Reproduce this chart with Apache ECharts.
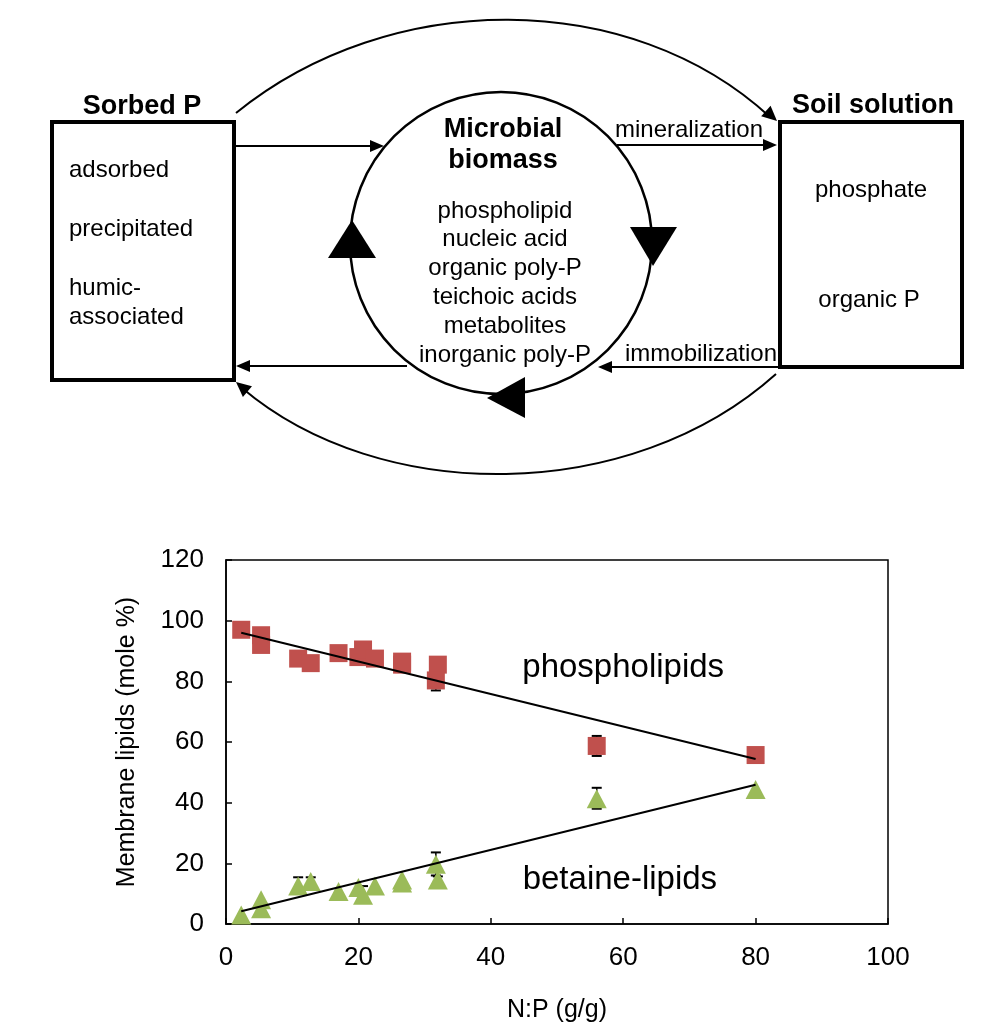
<!DOCTYPE html>
<html>
<head>
<meta charset="utf-8">
<script src="https://cdn.jsdelivr.net/npm/echarts@6/dist/echarts.min.js"></script>
<style>
html,body{margin:0;padding:0;background:#fff;}
#main{width:994px;height:1024px;}
</style>
</head>
<body>
<div id="main"></div>
<script>
// ---- Data ----
const xTicks = [0, 20, 40, 60, 80, 100];
const yTicks = [0, 20, 40, 60, 80, 100, 120];
const phospholipids = [
  [2.3, 97], [5.3, 95.2], [5.3, 92], [10.9, 87.5], [12.8, 86], [17, 89.3],
  [20, 88], [20.7, 90.5], [22.5, 87.5], [26.6, 86.5], [26.6, 85.5],
  [32, 85.5], [31.7, 80.3], [56, 58.7], [80, 55.7]
];
const betaineLipids = [
  [2.3, 3], [5.3, 8], [5.3, 5], [10.9, 12.5], [12.8, 14], [17, 10.7],
  [20, 12], [20.7, 9.5], [22.5, 12.5], [26.6, 13.5], [26.6, 14.5],
  [32, 14.5], [31.7, 19.7], [56, 41.3], [80, 44.3]
];
const phosTrend = [[2.3, 96], [80, 54.4]];
const betaineTrend = [[2.3, 4.2], [80, 45.9]];
const phosErr = [[31.7, 77, 83.5], [56, 55.4, 62]];
const betaineErr = [[10.9, 11, 15.4], [12.8, 12.6, 15.4], [20.7, 8, 12.5], [32, 13, 15.7], [31.7, 16, 23.6], [56, 38, 44.9]];
const seriesLabels = [[60, 84.5, 'phospholipids'], [59.5, 14.5, 'betaine-lipids']];

const FONT = '"Liberation Sans", Arial, Helvetica, sans-serif';

// ---- Diagram helpers ----
function txt(x, y, text, size, bold, align) {
  const f = (bold ? 'bold ' : '') + size + 'px ' + FONT;
  return {type: 'text', x: x, y: y, z: 10, style: {
    text: text, fill: '#000', font: f,
    align: align || 'left', verticalAlign: 'middle',
    textAlign: align || 'left', textVerticalAlign: 'middle'
  }};
}
function seg(x1, y1, x2, y2, w) {
  return {type: 'line', z: 10, shape: {x1, y1, x2, y2}, style: {stroke: '#000', lineWidth: w || 2}};
}
function head(tx, ty, dx, dy, len, half) {
  const L = Math.hypot(dx, dy); const ux = dx / L, uy = dy / L;
  const bx = tx - ux * len, by = ty - uy * len;
  return {type: 'polygon', z: 11, shape: {points: [[tx, ty], [bx - uy * half, by + ux * half], [bx + uy * half, by - ux * half]]}, style: {fill: '#000'}};
}
function poly(pts) {
  return {type: 'polygon', z: 11, shape: {points: pts}, style: {fill: '#000'}};
}

const diagram = [
  // boxes
  {type: 'rect', z: 10, shape: {x: 52, y: 122, width: 182, height: 258}, style: {fill: 'none', stroke: '#000', lineWidth: 4}},
  {type: 'rect', z: 10, shape: {x: 780, y: 122, width: 182, height: 245}, style: {fill: 'none', stroke: '#000', lineWidth: 4}},
  // circle
  {type: 'circle', z: 10, shape: {cx: 501, cy: 243, r: 151}, style: {fill: 'none', stroke: '#000', lineWidth: 2.5}},
  // big arrowheads on circle
  poly([[352, 220], [328, 258], [376, 258]]),
  poly([[653, 266], [630, 227], [677, 227]]),
  poly([[487, 398], [525, 377], [525, 418]]),
  // big curves
  {type: 'bezierCurve', z: 10, shape: {x1: 236, y1: 113, cpx1: 390, cpy1: -12, cpx2: 630, cpy2: -12, x2: 770, y2: 117}, style: {stroke: '#000', lineWidth: 2, fill: 'none'}},
  head(777, 121, 146, 132, 15, 7),
  {type: 'bezierCurve', z: 10, shape: {x1: 776, y1: 374, cpx1: 630, cpy1: 505, cpx2: 380, cpy2: 505, x2: 242, y2: 388}, style: {stroke: '#000', lineWidth: 2, fill: 'none'}},
  head(236, 382, -144, -122, 15, 7),
  // straight arrows
  seg(234, 146, 372, 146), head(384, 146, 1, 0, 14, 6),
  seg(407, 366, 248, 366), head(236, 366, -1, 0, 14, 6),
  seg(617, 145, 764, 145), head(777, 145, 1, 0, 14, 6),
  seg(778, 367, 610, 367), head(598, 367, -1, 0, 14, 6),
  // texts
  txt(142, 107, 'Sorbed P', 27, true, 'center'),
  txt(69, 170, 'adsorbed', 24),
  txt(69, 229, 'precipitated', 24),
  txt(69, 288, 'humic-', 24),
  txt(69, 317, 'associated', 24),
  txt(873, 106, 'Soil solution', 27, true, 'center'),
  txt(871, 190, 'phosphate', 24, false, 'center'),
  txt(869, 300, 'organic P', 24, false, 'center'),
  txt(503, 130, 'Microbial', 27, true, 'center'),
  txt(503, 161, 'biomass', 27, true, 'center'),
  txt(505, 211, 'phospholipid', 24, false, 'center'),
  txt(505, 239, 'nucleic acid', 24, false, 'center'),
  txt(505, 268, 'organic poly-P', 24, false, 'center'),
  txt(505, 297, 'teichoic acids', 24, false, 'center'),
  txt(505, 326, 'metabolites', 24, false, 'center'),
  txt(505, 355, 'inorganic poly-P', 24, false, 'center'),
  txt(689, 130, 'mineralization', 24, false, 'center'),
  txt(701, 354, 'immobilization', 24, false, 'center')
];

function errRender(params, api) {
  const x = api.value(0), lo = api.value(1), hi = api.value(2);
  const a = api.coord([x, lo]), b = api.coord([x, hi]);
  const w = 5;
  const st = {stroke: '#000', lineWidth: 2};
  return {type: 'group', children: [
    {type: 'line', shape: {x1: a[0], y1: a[1], x2: b[0], y2: b[1]}, style: {stroke: '#000', lineWidth: 1.5}},
    {type: 'line', shape: {x1: a[0] - w, y1: a[1], x2: a[0] + w, y2: a[1]}, style: st},
    {type: 'line', shape: {x1: b[0] - w, y1: b[1], x2: b[0] + w, y2: b[1]}, style: st}
  ]};
}
function labelRender(params, api) {
  const p = api.coord([api.value(0), api.value(1)]);
  return {type: 'text', x: p[0], y: p[1], style: {
    text: seriesLabels[params.dataIndex][2], fill: '#000', font: '33px ' + FONT,
    align: 'center', verticalAlign: 'middle', textAlign: 'center', textVerticalAlign: 'middle'
  }};
}

const chart = echarts.init(document.getElementById('main'), null, {renderer: 'canvas'});
chart.setOption({
  backgroundColor: '#fff',
  animation: false,
  textStyle: {fontFamily: FONT},
  grid: {left: 226, right: 106, top: 560, bottom: 99, show: true, borderColor: '#000', borderWidth: 1.5, containLabel: false},
  xAxis: {
    type: 'value', min: xTicks[0], max: xTicks[xTicks.length - 1], interval: 20,
    name: 'N:P (g/g)', nameLocation: 'middle', nameGap: 74,
    nameTextStyle: {fontSize: 25, color: '#000', fontFamily: FONT},
    axisLine: {show: true, lineStyle: {color: '#000', width: 1.5}},
    axisTick: {show: true, inside: true, length: 6, lineStyle: {color: '#000', width: 1.5}},
    axisLabel: {fontSize: 26, color: '#000', margin: 21, fontFamily: FONT},
    splitLine: {show: false}
  },
  yAxis: {
    type: 'value', min: yTicks[0], max: yTicks[yTicks.length - 1], interval: 20,
    name: 'Membrane lipids (mole %)', nameLocation: 'middle', nameGap: 86,
    nameTextStyle: {fontSize: 25, color: '#000', fontFamily: FONT},
    axisLine: {show: true, lineStyle: {color: '#000', width: 1.5}},
    axisTick: {show: true, inside: true, length: 6, lineStyle: {color: '#000', width: 1.5}},
    axisLabel: {fontSize: 26, color: '#000', margin: 22, fontFamily: FONT},
    splitLine: {show: false}
  },
  graphic: diagram,
  series: [
    {type: 'custom', name: 'phosErr', data: phosErr, renderItem: errRender, z: 1},
    {type: 'custom', name: 'betErr', data: betaineErr, renderItem: errRender, z: 1},
    {type: 'scatter', name: 'phospholipids', data: phospholipids, symbol: 'rect', symbolSize: 18,
     itemStyle: {color: '#C0504D', opacity: 1}, z: 2},
    {type: 'scatter', name: 'betaine-lipids', data: betaineLipids, symbol: 'triangle', symbolSize: [20, 19],
     itemStyle: {color: '#9BBB59', opacity: 1}, z: 2},
    {type: 'line', data: phosTrend, symbol: 'none', lineStyle: {color: '#000', width: 2}, z: 3},
    {type: 'line', data: betaineTrend, symbol: 'none', lineStyle: {color: '#000', width: 2}, z: 3},
    {type: 'custom', data: seriesLabels.map(d => [d[0], d[1]]), renderItem: labelRender, z: 4, silent: true}
  ]
});
</script>
</body>
</html>
